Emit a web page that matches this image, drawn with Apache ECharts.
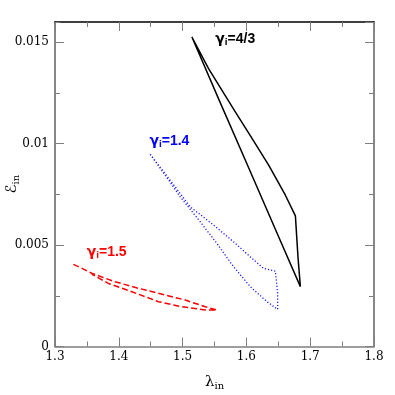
<!DOCTYPE html>
<html><head><meta charset="utf-8">
<script src="https://cdn.jsdelivr.net/npm/echarts@6/dist/echarts.min.js"></script>
<style>html,body{margin:0;padding:0;background:#fff}#c{width:395px;height:395px}</style>
</head><body><div id="c"></div>
<script>
// gamma_i = 4/3 (black, solid)
var blackX = [1.5146, 1.5407, 1.5826, 1.6088, 1.6349, 1.6611, 1.6768, 1.6810, 1.6846, 1.6505, 1.5996, 1.5571, 1.5146];
var blackY = [0.01526, 0.01370, 0.01157, 0.01026, 0.00894, 0.00746, 0.00644, 0.00434, 0.00295, 0.00541, 0.00910, 0.01216, 0.01526];
// gamma_i = 1.4 (blue, dotted)
var blueX = [1.4491, 1.4805, 1.5119, 1.5485, 1.5799, 1.6061, 1.6270, 1.6454, 1.6490, 1.6490, 1.6323, 1.6061, 1.5799, 1.5538, 1.5276, 1.4962, 1.4805, 1.4491];
var blueY = [0.00948, 0.00820, 0.00689, 0.00599, 0.00516, 0.00442, 0.00385, 0.00372, 0.00262, 0.00183, 0.00221, 0.00295, 0.00393, 0.00508, 0.00615, 0.00738, 0.00810, 0.00948];
// gamma_i = 1.5 (red, dashed)
var redX = [1.3288, 1.3380, 1.3470, 1.3576, 1.3942, 1.4308, 1.4727, 1.5041, 1.5355, 1.5538, 1.5355, 1.4989, 1.4622, 1.4204, 1.3837, 1.3576];
var redY = [0.00405, 0.00392, 0.00378, 0.00361, 0.00319, 0.00287, 0.00254, 0.00229, 0.00196, 0.00180, 0.00180, 0.00196, 0.00221, 0.00270, 0.00311, 0.00357];
// tick labels
var xTicks = [1.3, 1.4, 1.5, 1.6, 1.7, 1.8];
var yTicks = [0, 0.005, 0.01, 0.015];
var labels = [
  {g: '4/3', x: 1.5512, y: 0.01515, color: '#000000'},
  {g: '1.4', x: 1.4480, y: 0.01012, color: '#0000ff'},
  {g: '1.5', x: 1.3497, y: 0.00466, color: '#ff0000'}
];

function zip(xs, ys){ return xs.map(function(v,i){ return [v, ys[i]]; }); }

var serif = 'DejaVu Serif';
var grey = '#7f7f7f';
var chart = echarts.init(document.getElementById('c'), null, {renderer: 'canvas'});

function xAx(pos, showLabel, lineColor){
  return {
    type: 'value', position: pos, min: 1.3, max: 1.8, interval: 0.1,
    axisLine: {show: true, onZero: false, lineStyle: {color: lineColor, width: 1.5}},
    axisTick: {show: true, inside: true, length: 9, lineStyle: {color: grey, width: 1}},
    minorTick: {show: true, splitNumber: 2, length: 5, lineStyle: {color: grey, width: 1}},
    splitLine: {show: false},
    axisLabel: {show: showLabel, color: '#000', fontFamily: serif, fontSize: 12, margin: 4,
      formatter: function(v){ return xTicks.indexOf(Math.round(v*10)/10) >= 0 ? String(Math.round(v*10)/10) : ''; }},
    name: showLabel ? '{a|λ}{s|in}' : '', nameLocation: 'middle', nameGap: 27, nameMoveOverlap: false,
    nameTextStyle: {rich: {a: {fontFamily: serif, fontSize: 15, color: '#000'}, s: {fontFamily: serif, fontSize: 10, color: '#000', verticalAlign: 'bottom', padding: [8,0,0,0]}}}
  };
}
function yAx(pos, interval, tickLen, showLabel, lineColor){
  return {
    type: 'value', position: pos, min: 0, max: 0.016, interval: interval,
    axisLine: {show: true, onZero: false, lineStyle: {color: lineColor, width: 1.5}},
    axisTick: {show: true, inside: true, length: tickLen, lineStyle: {color: grey, width: 1}},
    splitLine: {show: false},
    axisLabel: {show: showLabel, color: '#000', fontFamily: serif, fontSize: 12, margin: 6, showMaxLabel: false,
      formatter: function(v){ var r = Math.round(v*1000)/1000; return yTicks.indexOf(r) >= 0 && Math.abs(v-r) < 1e-9 ? String(r) : ''; }},
    name: showLabel ? '{a|ℰ}{s|in}' : '', nameLocation: 'middle', nameGap: 34, nameRotate: 90, nameMoveOverlap: false,
    nameTextStyle: {rich: {a: {fontFamily: 'DejaVu Serif, DejaVu Sans, serif', fontSize: 15, color: '#000'}, s: {fontFamily: serif, fontSize: 10, color: '#000', padding: [8,0,0,0]}}}
  };
}

var option = {
  animation: false,
  backgroundColor: '#fff',
  grid: {left: 55, right: 21, top: 22, bottom: 48.5, containLabel: false, outerBoundsMode: 'none'},
  xAxis: [xAx('bottom', true, grey), xAx('top', false, '#000')],
  yAxis: [
    yAx('left', 0.005, 9, true, grey),
    yAx('right', 0.005, 9, false, grey),
    yAx('left', 0.0025, 5, false, grey),
    yAx('right', 0.0025, 5, false, grey)
  ],
  series: [
    {type: 'line', data: zip(blackX, blackY), showSymbol: false, symbol: 'none', xAxisIndex: 0, yAxisIndex: 0,
      lineStyle: {color: '#000', width: 1.5}, silent: true},
    {type: 'line', data: zip(blueX, blueY), showSymbol: false, symbol: 'none', xAxisIndex: 0, yAxisIndex: 0,
      lineStyle: {color: '#1a1aff', width: 1.3, type: [1.2, 2]}, silent: true},
    {type: 'line', data: zip(redX, redY), showSymbol: false, symbol: 'none', xAxisIndex: 0, yAxisIndex: 0,
      lineStyle: {color: '#ff0000', width: 1.5, type: [6, 3]}, silent: true}
  ]
};
chart.setOption(option);

var gr = labels.map(function(l){
  var p = chart.convertToPixel({xAxisIndex: 0, yAxisIndex: 0}, [l.x, l.y]);
  return {
    type: 'text', x: p[0], y: p[1],
    style: {
      text: '{g|γ}{i|i}{t|=' + l.g + '}',
      verticalAlign: 'middle', align: 'left',
      rich: {
        g: {fontFamily: 'DejaVu Sans', fontWeight: 'bold', fontSize: 14, fill: l.color},
        i: {fontFamily: 'DejaVu Sans', fontWeight: 'bold', fontSize: 8, fill: l.color, padding: [8,0,0,0]},
        t: {fontFamily: 'Liberation Sans', fontWeight: 'bold', fontSize: 14, fill: l.color}
      }
    }
  };
});
chart.setOption({graphic: gr});
</script>
</body></html>
